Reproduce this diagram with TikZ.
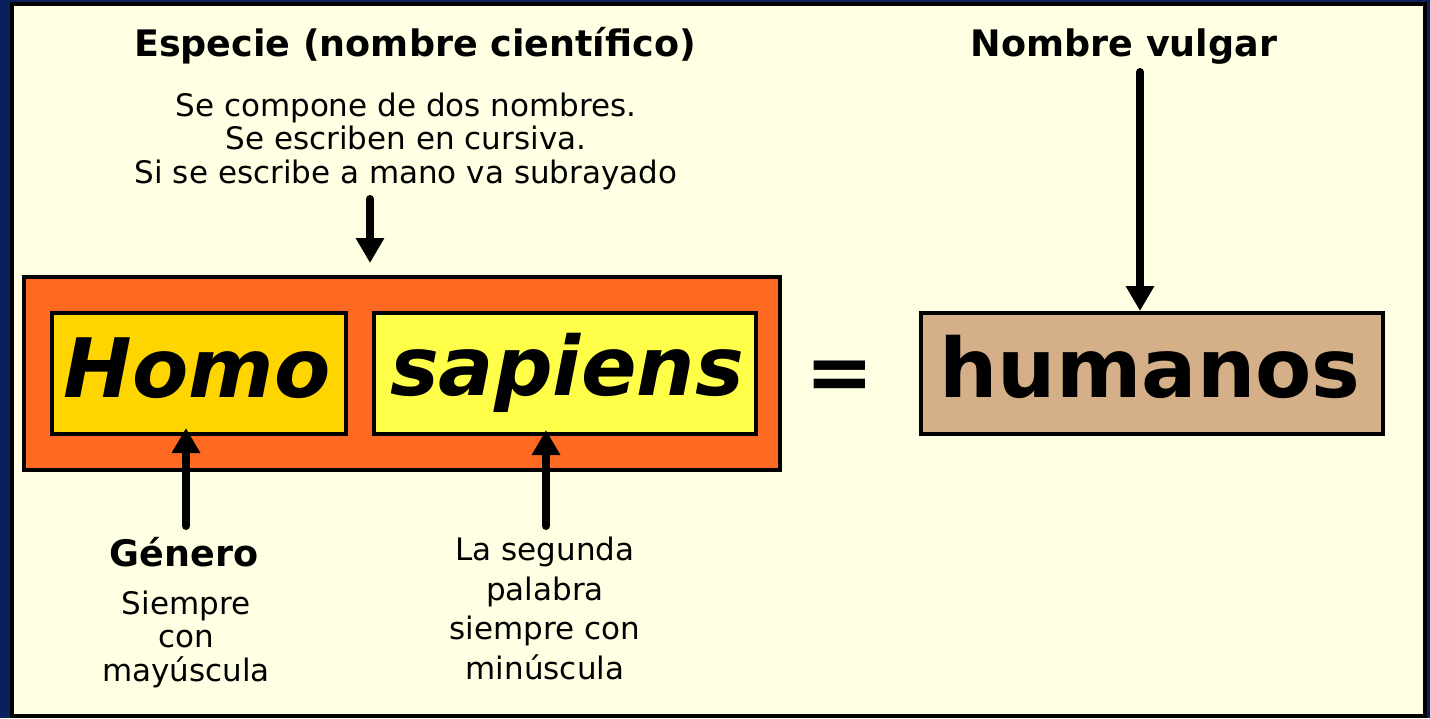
\documentclass[tikz,border=0pt]{standalone}
\usepackage{fontspec}
\setmainfont{DejaVu Sans}
\usetikzlibrary{arrows.meta}
\definecolor{navy}{HTML}{0A1F5E}
\definecolor{cream}{HTML}{FFFFE3}
\definecolor{orng}{HTML}{FF6A22}
\definecolor{gold}{HTML}{FFD500}
\definecolor{lemon}{HTML}{FFFF4A}
\definecolor{tanbox}{HTML}{D4AF87}
\begin{document}
\begin{tikzpicture}[x=1pt,y=-1pt,
  box/.style={draw=black, line width=4pt, inner sep=0pt, minimum height=121},
  big/.style={font=\fontsize{82}{90}\selectfont\bfseries, inner sep=0pt},
  head/.style={font=\fontsize{36.5}{40}\selectfont\bfseries, inner sep=0pt},
  body/.style={font=\fontsize{31}{33.5}\selectfont, align=center, inner sep=0pt},
  bodywide/.style={font=\fontsize{31}{39.5}\selectfont, align=center, inner sep=0pt},
  arr/.style={line width=8pt, line cap=round, -{Triangle[width=27pt,length=25pt]}}]
\useasboundingbox (0,0) rectangle (1430,718);
\fill[navy] (0,0) rectangle (1430,718);
\draw[fill=cream, line width=4pt] (12,4) rectangle (1425,716);
% boxes
\node[box, fill=orng, minimum width=756, minimum height=193] (outer) at (402,373.5) {};
\node[box, fill=gold, minimum width=294] (homo) at (199,373.5) {};
\node[box, fill=lemon, minimum width=382] (sap) at (565,373.5) {};
\node[box, fill=tanbox, minimum width=462] (hum) at (1152,373.5) {};
% big words
\node[big, anchor=base] (homot) at (197,397) {\itshape Homo};
\node[big, anchor=base] (sapt) at (567,395) {\itshape sapiens};
\node[big, anchor=base] (humt) at (1150,397) {humanos};
\node[big, anchor=base] (eq) at (840,400) {=};
% headings
\node[head, anchor=base] (esp) at (415,56) {Especie (nombre científico)};
\node[head, anchor=base] (vul) at (1124,56) {Nombre vulgar};
\node[body, anchor=base] (desc) at (406,183) {Se compone de dos nombres.\\Se escriben en cursiva.\\Si se escribe a mano va subrayado};
\node[head, anchor=base] (gen) at (184,566) {Género};
\node[body, anchor=base] (genx) at (186,681) {Siempre\\con\\mayúscula};
\node[bodywide, anchor=base] (esx) at (545,679) {La segunda\\palabra\\siempre con\\minúscula};
% arrows
\coordinate (a1s) at (370,199);
\coordinate (a1e) at (370,263);
\coordinate (a2s) at (1140,72);
\coordinate (a2e) at (1140,311);
\coordinate (a3s) at (186,526);
\coordinate (a3e) at (186,428);
\coordinate (a4s) at (546,526);
\coordinate (a4e) at (546,430);
\draw[arr] (a1s) -- (a1e);
\draw[arr] (a2s) -- (a2e);
\draw[arr] (a3s) -- (a3e);
\draw[arr] (a4s) -- (a4e);
\end{tikzpicture}
\end{document}
